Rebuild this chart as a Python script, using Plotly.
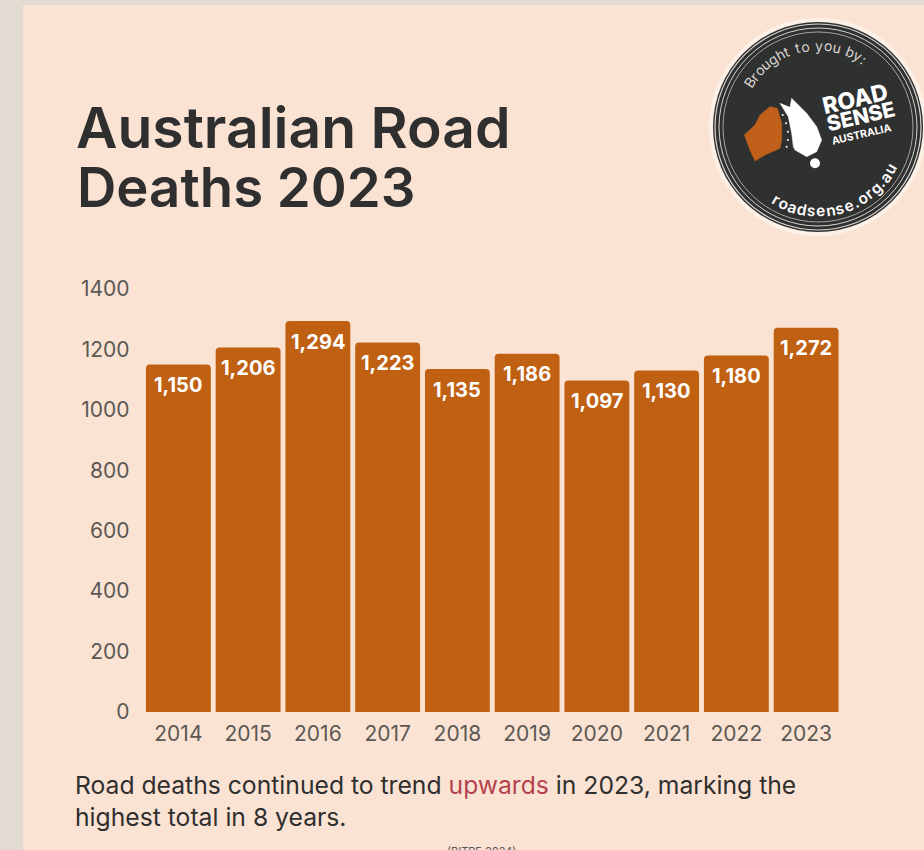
import math
import plotly.graph_objects as go

W, H = 924, 850
years = ["2014", "2015", "2016", "2017", "2018", "2019", "2020", "2021", "2022", "2023"]
deaths = [1150, 1206, 1294, 1223, 1135, 1186, 1097, 1130, 1180, 1272]
y_ticks = [0, 200, 400, 600, 800, 1000, 1200, 1400]
bar_colour = "#c06012"
ink = "#2f2f2f"
axis_ink = "#5c5854"
font = "Inter"

def fx(px):
    return px / W

def fy(py):
    return 1 - py / H

fig = go.Figure(go.Bar(
    x=years, y=deaths, marker=dict(color=bar_colour, line_width=0),
    width=0.93, hoverinfo="x+y",
))

annotations = []
shapes = []

def label(px, py, text, size, colour=ink, weight=400, anchor="center", angle=0, family=font):
    annotations.append(dict(
        xref="paper", yref="paper", x=fx(px), y=fy(py), text=text, showarrow=False,
        xanchor=anchor, yanchor="middle", textangle=angle,
        font=dict(family=family, size=size, color=colour, weight=weight),
    ))

def circle(cx, cy, r, **kw):
    shapes.append(dict(type="circle", xref="paper", yref="paper",
                       x0=fx(cx - r), x1=fx(cx + r), y0=fy(cy + r), y1=fy(cy - r), **kw))

def outline(points, colour):
    path = "M " + " L ".join(f"{fx(700 + a / 3):.5f},{fy(b / 3):.5f}" for a, b in points) + " Z"
    shapes.append(dict(type="path", xref="paper", yref="paper", path=path,
                       fillcolor=colour, line=dict(color=colour, width=0.5)))

# Page surround and the card behind everything
shapes.append(dict(type="rect", xref="paper", yref="paper", x0=fx(23), x1=1.01, y0=-0.01, y1=fy(5),
                   fillcolor="#fbe3d3", line_width=0, layer="below"))

# Headline and footnote copy
label(74, 127, "Australian Road", 57, weight=600, anchor="left")
label(75, 187, "Deaths 2023", 54.5, weight=600, anchor="left")
label(73, 785, 'Road deaths continued to trend <span style="color:#b5434f">upwards</span> in 2023, marking the',
      24.7, anchor="left")
label(73, 817, "highest total in 8 years.", 24.7, anchor="left")
label(481, 851, "(BITRE 2024)", 11, colour="#555555")

# Value labels sit just under the top of each bar
for i, value in enumerate(deaths):
    annotations.append(dict(
        x=i, y=value, yshift=-20.5, text=f"{value:,}", showarrow=False,
        font=dict(family=font, size=20, color="white", weight=700),
    ))

# Round badge in the top corner
cx, cy = 818, 127
circle(cx, cy, 109, fillcolor="#fdf0e6", line_width=0)
circle(cx, cy, 105, fillcolor="#2f3030", line_width=0)
for r, w in [(103, 1.2), (99, 1), (95, 0.7)]:
    circle(cx, cy, r, line=dict(color="#d8d4cf", width=w))

outline([(133, 405), (165, 375), (180, 345), (210, 320), (232, 325), (245, 370), (245, 420),
         (240, 445), (195, 465), (165, 483), (150, 450)], "#c0601a")
outline([(240, 310), (270, 322), (275, 295), (320, 340), (350, 380), (365, 420), (350, 455),
         (320, 470), (285, 450), (280, 440), (275, 400), (265, 350)], "#ffffff")
circle(700 + 345 / 3, 490 / 3, 5, fillcolor="#ffffff", line_width=0)
for a, b in [(248, 345), (258, 370), (264, 395), (264, 420), (260, 440)]:
    circle(700 + a / 3, b / 3, 1, fillcolor="#ffffff", line_width=0)

label(855, 99, "ROAD", 23, colour="white", weight=800, angle=-13)
label(860, 116, "SENSE", 21, colour="white", weight=800, angle=-13)
label(861, 134, "AUSTRALIA", 10.5, colour="white", weight=700, angle=-13)

NARROW = {"i": 0.5, "l": 0.5, ".": 0.55, ":": 0.55, "t": 0.7, "r": 0.75, " ": 0.65, "f": 0.7}

def arc_text(text, start, end, radius, size, colour, weight, bottom):
    # Letters are spaced along the arc by their rough widths
    widths = [NARROW.get(ch, 1.0) for ch in text]
    total = sum(widths) - (widths[0] + widths[-1]) / 2
    pos = 0.0
    for i, ch in enumerate(text):
        if i:
            pos += (widths[i - 1] + widths[i]) / 2
        deg = start + (end - start) * pos / total
        a = math.radians(deg)
        if bottom:
            px, py = cx + radius * math.sin(a), cy + radius * math.cos(a)
            angle = -deg
        else:
            px, py = cx + radius * math.sin(a), cy - radius * math.cos(a)
            angle = deg
        label(px, py, ch, size, colour=colour, weight=weight, angle=angle)

arc_text("Brought to you by:", -57, 34, 82, 14, "#d8d4cf", 400, False)
arc_text("roadsense.org.au", -30, 60, 84, 15.5, "white", 600, True)

fig.update_layout(
    width=W, height=H, autosize=False, margin=dict(l=0, r=0, t=0, b=0, autoexpand=False),
    paper_bgcolor="#e2dbd2", plot_bgcolor="rgba(0,0,0,0)",
    barcornerradius=4, showlegend=False,
    font=dict(family=font, color=axis_ink),
    annotations=annotations, shapes=shapes,
    xaxis=dict(domain=[fx(143.5), fx(841)], type="category", categoryorder="array", categoryarray=years,
               range=[-0.5, 9.5], showgrid=False, showline=False,
               zeroline=False, ticks="", ticklabelstandoff=7, tickfont=dict(size=21, color=axis_ink)),
    yaxis=dict(domain=[fy(712), fy(289)], range=[0, 1400], tickvals=y_ticks, showgrid=False,
               showline=False, zeroline=False, ticks="", ticklabelstandoff=13,
               tickfont=dict(size=21, color=axis_ink)),
)

fig.write_html("out.html", config=dict(displayModeBar=False))
